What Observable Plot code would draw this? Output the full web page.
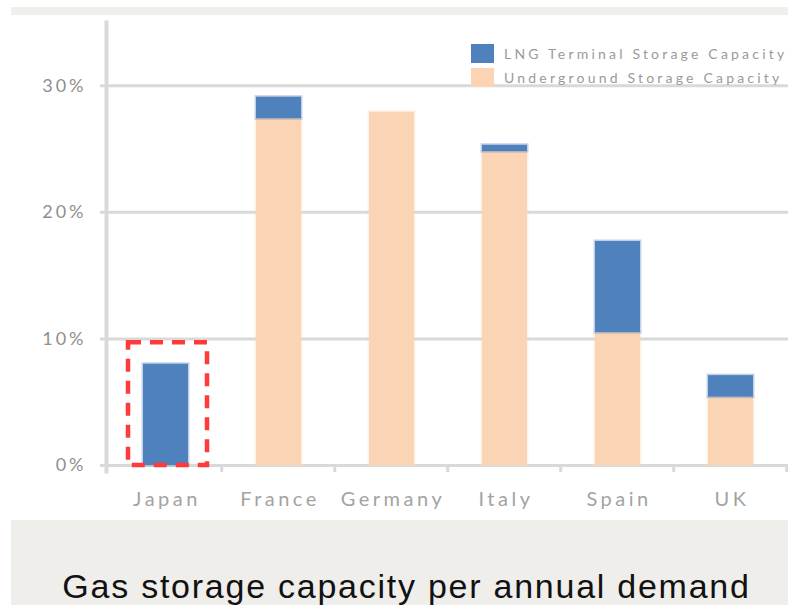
<!DOCTYPE html>
<html>
<head>
<meta charset="utf-8">
<script src="https://cdn.jsdelivr.net/npm/d3@7"></script>
<script src="https://cdn.jsdelivr.net/npm/@observablehq/plot@0.6"></script>
<style>
  html, body { margin: 0; padding: 0; background: #fff; }
  #wrap { position: relative; width: 788px; height: 605px; overflow: hidden; }
  #topstrip { position: absolute; left: 11px; top: 7px; width: 777px; height: 8px; background: #efefec; }
  #chart { position: absolute; left: 0; top: 0; }
  #chart g[aria-label="x-axis tick label"] text { letter-spacing: 3.5px; }
  #chart g[aria-label="y-axis tick label"] text { letter-spacing: 3px; }
  #legend { position: absolute; left: 471px; top: 41px; font-family: Lato, "Open Sans", sans-serif; font-size: 14px; color: #9a9a9a; letter-spacing: 3.2px; }
  #legend .row { display: flex; align-items: center; height: 24px; }
  #legend .sw { width: 23px; height: 19px; margin-right: 10px; }
  #caption { position: absolute; left: 11px; top: 520px; width: 777px; height: 85px; background: #efeeeb;
             font-family: "Liberation Sans", Arial, sans-serif; font-size: 34px; letter-spacing: 1.75px; color: #111; text-align: center; }
  #caption span { position: absolute; left: 14px; right: 0; top: 49px; line-height: 1; }
</style>
</head>
<body>
<div id="wrap">
  <div id="topstrip"></div>
  <div id="chart"></div>
  <div id="legend"></div>
  <div id="caption"><span></span></div>
</div>
<script>
const countries = ["Japan", "France", "Germany", "Italy", "Spain", "UK"];
const underground = [0, 27.4, 27.9, 24.8, 10.5, 5.4];
const lng = [8.0, 1.7, 0, 0.5, 7.2, 1.7];
const seriesNames = ["Underground Storage Capacity", "LNG Terminal Storage Capacity"];
const seriesColors = ["#fad4b4", "#4f81bd"];
const yTicks = [0, 10, 20, 30];
const highlight = [{country: "Japan", top: 9.7}];
const captionText = "Gas storage capacity per annual demand";

const rows = [];
countries.forEach((c, i) => rows.push({country: c, type: seriesNames[0], value: underground[i]}));
countries.forEach((c, i) => rows.push({country: c, type: seriesNames[1], value: lng[i]}));

const W = 788, H = 520, mL = 106, mR = 1;
const band = (W - mL - mR) / countries.length;

const chart = Plot.plot({
  width: W,
  height: H,
  marginLeft: mL,
  marginRight: mR,
  marginTop: 22,
  marginBottom: 55,
  style: {fontFamily: "Lato, 'Open Sans', sans-serif", color: "#9a9a9a", background: "transparent"},
  x: {domain: countries, padding: 0, label: null},
  y: {domain: [0, 35], label: null},
  color: {domain: seriesNames, range: seriesColors},
  marks: [
    Plot.ruleY(yTicks, {stroke: "#d9d9d9", strokeWidth: 3, insetLeft: -6, insetRight: -2}),
    Plot.frame({anchor: "left", stroke: "#d9d9d9", strokeWidth: 4, insetBottom: -6}),
    Plot.ruleX(countries, {x: d => d, y1: 0, y2: 0, insetBottom: -7, dx: band / 2, stroke: "#d9d9d9", strokeWidth: 3}),
    Plot.barY(rows, {x: "country", y: "value", fill: "type", insetLeft: 35, insetRight: 33,
                     stroke: "type", strokeOpacity: 0.35, strokeWidth: 3}),
    Plot.barY(highlight, {x: "country", y1: 0, y2: "top", fill: "none", stroke: "#ff3a3a", strokeWidth: 4.5,
                          strokeDasharray: "13,9", insetLeft: 20, insetRight: 14}),
    Plot.axisY({ticks: yTicks, tickFormat: d => d + "%", tickSize: 0, tickPadding: 20, fontSize: 18, fill: "#8f8f8f"}),
    Plot.axisX({tickSize: 0, tickPadding: 26, fontSize: 20, fill: "#a3a3a3", dx: 2})
  ]
});
document.getElementById("chart").appendChild(chart);

const legend = document.getElementById("legend");
[1, 0].forEach(i => {
  const row = document.createElement("div");
  row.className = "row";
  const sw = document.createElement("div");
  sw.className = "sw";
  sw.style.background = seriesColors[i];
  const t = document.createElement("span");
  t.textContent = seriesNames[i];
  row.appendChild(sw);
  row.appendChild(t);
  legend.appendChild(row);
});
document.querySelector("#caption span").textContent = captionText;
</script>
</body>
</html>
